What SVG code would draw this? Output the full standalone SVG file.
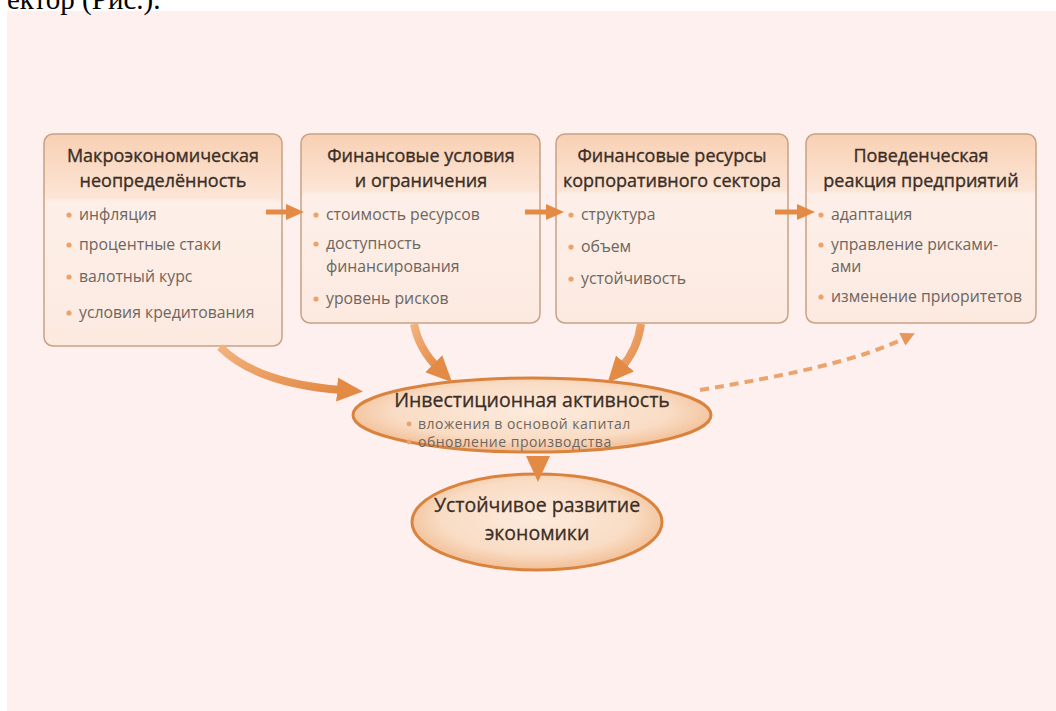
<svg xmlns="http://www.w3.org/2000/svg" width="1056" height="711" viewBox="0 0 1056 711">
<defs>
<style>
.title{font-family:"Open Sans","DejaVu Sans",sans-serif;font-size:18px;fill:#3a2e26;stroke:#3a2e26;stroke-width:0.35;text-anchor:middle}
.item{font-family:"Open Sans","DejaVu Sans",sans-serif;font-size:15.8px;fill:#6e6660}
.etitle{font-family:"Open Sans","DejaVu Sans",sans-serif;font-size:19.5px;fill:#3a2e26;stroke:#3a2e26;stroke-width:0.3;text-anchor:middle}
.eitem{font-family:"Open Sans","DejaVu Sans",sans-serif;font-size:14px;letter-spacing:0.5px;fill:#6e6660}
.dot{fill:#EDA268}
.box{fill:url(#body);stroke:#C9A184;stroke-width:1.5}
.arrow{fill:none;stroke:url(#ag);stroke-width:8;stroke-linecap:butt}
.harrow{fill:none;stroke:#E38A45;stroke-width:5}
</style>
<linearGradient id="body" x1="0" y1="0" x2="0" y2="1">
<stop offset="0" stop-color="#F8D0B3"/>
<stop offset="0.3" stop-color="#FCE5D6"/>
<stop offset="0.32" stop-color="#FDEFE8"/>
<stop offset="1" stop-color="#FCEAE1"/>
</linearGradient>
<linearGradient id="ag" x1="0" y1="0" x2="1" y2="1">
<stop offset="0" stop-color="#F2B27E"/>
<stop offset="1" stop-color="#E38A45"/>
</linearGradient>
<radialGradient id="eg" cx="0.5" cy="0.45" r="0.55">
<stop offset="0" stop-color="#FDEBDD"/>
<stop offset="0.7" stop-color="#F9DCC4"/>
<stop offset="1" stop-color="#F2BE95"/>
</radialGradient>
<marker id="ah" markerUnits="userSpaceOnUse" markerWidth="26" markerHeight="26" viewBox="0 0 26 26" refX="6" refY="13" orient="auto">
<path d="M0 1 L26 13 L0 25 Z" fill="#E38A45"/>
</marker>
<marker id="ahs" markerUnits="userSpaceOnUse" markerWidth="18" markerHeight="18" viewBox="0 0 18 18" refX="4" refY="9" orient="auto">
<path d="M0 1 L18 9 L0 17 Z" fill="#E38A45"/>
</marker>
<marker id="ahd" markerUnits="userSpaceOnUse" markerWidth="14" markerHeight="14" viewBox="0 0 14 14" refX="3" refY="7" orient="auto">
<path d="M0 0 L14 7 L0 14 Z" fill="#E8975A"/>
</marker>
</defs>
<rect x="0" y="0" width="1056" height="711" fill="#FFFFFF"/>
<rect x="7" y="11" width="1049" height="700" fill="#FEF0EE"/>
<text x="7" y="9" font-family="Liberation Serif, serif" font-size="29" fill="#000">ектор (Рис.).</text>

<g id="box1">
<rect class="box" x="44" y="134" width="238" height="212" rx="9"/>
<text class="title" x="163" y="162">Макроэкономическая</text>
<text class="title" x="163" y="187">неопределённость</text>
<circle class="dot" cx="69" cy="215" r="2.6"/><text class="item" x="79" y="220">инфляция</text>
<circle class="dot" cx="69" cy="245" r="2.6"/><text class="item" x="79" y="250">процентные стаки</text>
<circle class="dot" cx="69" cy="277" r="2.6"/><text class="item" x="79" y="282">валотный курс</text>
<circle class="dot" cx="69" cy="313" r="2.6"/><text class="item" x="79" y="318">условия кредитования</text>
</g>

<g id="box2">
<rect class="box" x="301" y="134" width="239" height="189" rx="9"/>
<text class="title" x="421" y="162">Финансовые условия</text>
<text class="title" x="421" y="187">и ограничения</text>
<circle class="dot" cx="316" cy="215" r="2.6"/><text class="item" x="326" y="220">стоимость ресурсов</text>
<circle class="dot" cx="316" cy="244" r="2.6"/><text class="item" x="326" y="249">доступность</text>
<text class="item" x="326" y="272">финансирования</text>
<circle class="dot" cx="316" cy="299" r="2.6"/><text class="item" x="326" y="304">уровень рисков</text>
</g>

<g id="box3">
<rect class="box" x="556" y="134" width="232" height="189" rx="9"/>
<text class="title" x="672" y="162">Финансовые ресурсы</text>
<text class="title" x="672" y="187">корпоративного сектора</text>
<circle class="dot" cx="571" cy="215" r="2.6"/><text class="item" x="581" y="220">структура</text>
<circle class="dot" cx="571" cy="247" r="2.6"/><text class="item" x="581" y="252">объем</text>
<circle class="dot" cx="571" cy="279" r="2.6"/><text class="item" x="581" y="284">устойчивость</text>
</g>

<g id="box4">
<rect class="box" x="806" y="134" width="230" height="189" rx="9"/>
<text class="title" x="921" y="162">Поведенческая</text>
<text class="title" x="921" y="187">реакция предприятий</text>
<circle class="dot" cx="821" cy="215" r="2.6"/><text class="item" x="831" y="220">адаптация</text>
<circle class="dot" cx="821" cy="245" r="2.6"/><text class="item" x="831" y="250">управление рисками-</text>
<text class="item" x="831" y="272">ами</text>
<circle class="dot" cx="821" cy="297" r="2.6"/><text class="item" x="831" y="302">изменение приоритетов</text>
</g>

<g id="invest">
<ellipse cx="532" cy="415" rx="179" ry="37" fill="url(#eg)" stroke="#D9833E" stroke-width="3"/>
<text class="etitle" x="532" y="407">Инвестиционная активность</text>
<circle class="dot" cx="409" cy="424" r="2.4"/><text class="eitem" x="418" y="429">вложения в основой капитал</text>
<circle class="dot" cx="409" cy="442" r="2.4"/><text class="eitem" x="418" y="447">обновление производства</text>
</g>

<g id="sustain">
<ellipse cx="537" cy="522" rx="125" ry="48" fill="url(#eg)" stroke="#D9833E" stroke-width="3"/>
<text class="etitle" x="537" y="512" font-size="19">Устойчивое развитие</text>
<text class="etitle" x="537" y="540" font-size="19">экономики</text>
</g>

<g id="connectors">
<path class="harrow" d="M266 212 L290 212" marker-end="url(#ahs)"/>
<path class="harrow" d="M525 212 L550 212" marker-end="url(#ahs)"/>
<path class="harrow" d="M775 212 L801 212" marker-end="url(#ahs)"/>
<path class="arrow" d="M220 347 C 250 377, 300 387, 343 390" marker-end="url(#ah)"/>
<path class="arrow" d="M414 324 C 418 345, 428 358, 438 368" marker-end="url(#ah)"/>
<path class="arrow" d="M641 324 C 638 345, 630 358, 621 368" marker-end="url(#ah)"/>
<path d="M700 390 C 790 375, 860 360, 905 338" fill="none" stroke="#EBA46E" stroke-width="4" stroke-dasharray="9 6" marker-end="url(#ahd)"/>
<path class="arrow" d="M538 452 L538 462" stroke-width="9" marker-end="url(#ah)"/>
</g>
</svg>
